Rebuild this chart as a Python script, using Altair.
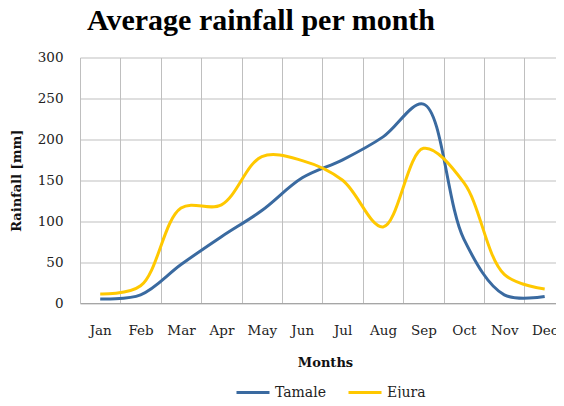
import altair as alt
import pandas as pd

months = ["Jan", "Feb", "Mar", "Apr", "May", "Jun", "Jul", "Aug", "Sep", "Oct", "Nov", "Dec"]
tamale = [5, 10, 47, 81, 113, 153, 175, 203, 243, 78, 10, 8]
ejura = [11, 21, 116, 120, 179, 174, 150, 93, 189, 147, 35, 17]
series = ["Tamale", "Ejura"]
colors = ["#3A6AA0", "#FFC800"]
y_ticks = [0, 50, 100, 150, 200, 250, 300]

rows = []
for name, vals in zip(series, [tamale, ejura]):
    for i, (m, v) in enumerate(zip(months, vals)):
        rows.append({"idx": i + 1, "month": m, "series": name, "rain": v})
df = pd.DataFrame(rows)

month_arr = "[" + ",".join("'" + m + "'" for m in months) + "]"
label_expr = "datum.value % 1 === 0 ? " + month_arr + "[datum.value - 1] : ''"
x_vals = [i / 2 for i in range(1, 2 * len(months) + 2)]

SERIF = "DejaVu Serif"
GRID = "#BFBFBF"

chart = (
    alt.Chart(df)
    .mark_line(interpolate="catmull-rom", strokeWidth=3, clip=True)
    .encode(
        x=alt.X(
            "idx:Q",
            scale=alt.Scale(domain=[0.5, 12.28], nice=False, zero=False),
            axis=alt.Axis(
                title="Months",
                titleX=245,
                values=x_vals,
                labelExpr=label_expr,
                grid=True,
                gridColor={"condition": {"test": "datum.value % 1 !== 0", "value": GRID}, "value": "transparent"},
                gridWidth=1,
                ticks=False,
                domainColor="#A6A6A6",
                domainWidth=1,
                labelFont=SERIF,
                labelFontSize=13.5,
                labelColor="#222222",
                labelPadding=20,
                labelOverlap=False,
                labelFlush=False,
                titleFont=SERIF,
                titleFontSize=13,
                titleFontWeight="bold",
                titleColor="#111111",
                titlePadding=20,
            ),
        ),
        y=alt.Y(
            "rain:Q",
            scale=alt.Scale(domain=[0, 300], nice=False),
            axis=alt.Axis(
                title="Rainfall [mm]",
                values=y_ticks,
                grid=True,
                gridColor=GRID,
                domain=False,
                ticks=False,
                labelFont=SERIF,
                labelFontSize=13.5,
                labelColor="#222222",
                labelPadding=17,
                titleFont=SERIF,
                titleFontSize=13,
                titleFontWeight="bold",
                titleColor="#111111",
                titlePadding=14,
            ),
        ),
        color=alt.Color(
            "series:N",
            scale=alt.Scale(domain=series, range=colors),
            legend=alt.Legend(
                title=None,
                orient="none",
                direction="horizontal",
                legendX=155,
                legendY=317,
                symbolType="stroke",
                symbolSize=1089,
                symbolStrokeWidth=3,
                labelFont=SERIF,
                labelFontSize=14,
                labelColor="#222222",
                labelOffset=4,
                columnPadding=16,
            ),
        ),
    )
    .properties(
        width=476,
        height=245.5,
        autosize=alt.AutoSizeParams(type="none"),
        padding={"left": 72, "top": 49.5, "right": 0, "bottom": 95},
        title=alt.TitleParams(
            "Average rainfall per month",
            font="Liberation Serif",
            fontSize=30,
            fontWeight="bold",
            color="#000000",
            anchor="middle",
            frame="group",
            offset=15,
            dx=-57,
        ),
    )
    .configure_view(stroke=None)
)

chart.save("out.html", embed_options={"renderer": "svg", "actions": False})
